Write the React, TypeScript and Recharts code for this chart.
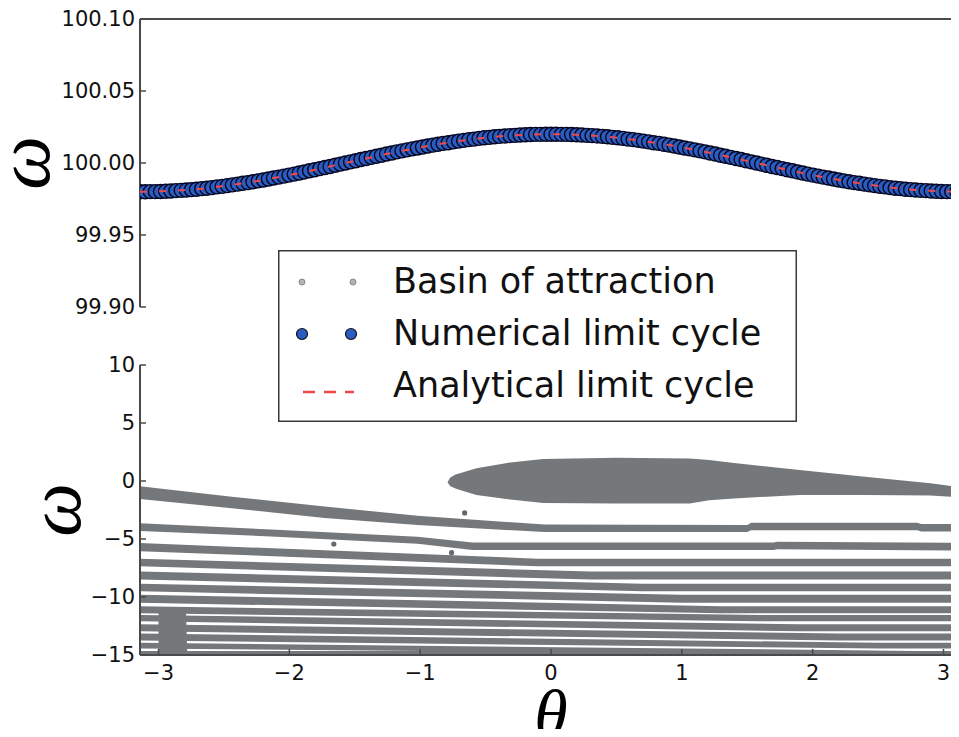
import React from 'react';
import { ComposedChart, Area, Scatter, Line, XAxis, YAxis } from 'recharts';

const PI = Math.PI;

// ---------- top panel: limit cycle ----------
const cycleTheta = [
  -3.142, -3.102, -3.063, -3.024, -2.985, -2.945, -2.906, -2.867, -2.827, -2.788,
  -2.749, -2.71, -2.67, -2.631, -2.592, -2.553, -2.513, -2.474, -2.435, -2.395,
  -2.356, -2.317, -2.278, -2.238, -2.199, -2.16, -2.121, -2.081, -2.042, -2.003,
  -1.963, -1.924, -1.885, -1.846, -1.806, -1.767, -1.728, -1.689, -1.649, -1.61,
  -1.571, -1.532, -1.492, -1.453, -1.414, -1.374, -1.335, -1.296, -1.257, -1.217,
  -1.178, -1.139, -1.1, -1.06, -1.021, -0.982, -0.942, -0.903, -0.864, -0.825,
  -0.785, -0.746, -0.707, -0.668, -0.628, -0.589, -0.55, -0.511, -0.471, -0.432,
  -0.393, -0.353, -0.314, -0.275, -0.236, -0.196, -0.157, -0.118, -0.079, -0.039,
  0.0,
  0.039, 0.079, 0.118, 0.157, 0.196, 0.236, 0.275, 0.314, 0.353, 0.393,
  0.432, 0.471, 0.511, 0.55, 0.589, 0.628, 0.668, 0.707, 0.746, 0.785,
  0.825, 0.864, 0.903, 0.942, 0.982, 1.021, 1.06, 1.1, 1.139, 1.178,
  1.217, 1.257, 1.296, 1.335, 1.374, 1.414, 1.453, 1.492, 1.532, 1.571,
  1.61, 1.649, 1.689, 1.728, 1.767, 1.806, 1.846, 1.885, 1.924, 1.963,
  2.003, 2.042, 2.081, 2.121, 2.16, 2.199, 2.238, 2.278, 2.317, 2.356,
  2.395, 2.435, 2.474, 2.513, 2.553, 2.592, 2.631, 2.67, 2.71, 2.749,
  2.788, 2.827, 2.867, 2.906, 2.945, 2.985, 3.024, 3.063, 3.102, 3.142,
];
const numericalOmega = [
  99.98, 99.98, 99.9801, 99.9801, 99.9802, 99.9804, 99.9806, 99.9808, 99.981, 99.9812,
  99.9815, 99.9818, 99.9822, 99.9825, 99.9829, 99.9834, 99.9838, 99.9843, 99.9848, 99.9853,
  99.9859, 99.9864, 99.987, 99.9876, 99.9882, 99.9889, 99.9896, 99.9902, 99.9909, 99.9916,
  99.9923, 99.9931, 99.9938, 99.9946, 99.9953, 99.9961, 99.9969, 99.9976, 99.9984, 99.9992,
  100.0, 100.0008, 100.0016, 100.0024, 100.0031, 100.0039, 100.0047, 100.0054, 100.0062, 100.0069,
  100.0077, 100.0084, 100.0091, 100.0098, 100.0104, 100.0111, 100.0118, 100.0124, 100.013, 100.0136,
  100.0141, 100.0147, 100.0152, 100.0157, 100.0162, 100.0166, 100.0171, 100.0175, 100.0178, 100.0182,
  100.0185, 100.0188, 100.019, 100.0192, 100.0194, 100.0196, 100.0198, 100.0199, 100.0199, 100.02,
  100.02,
  100.02, 100.0199, 100.0199, 100.0198, 100.0196, 100.0194, 100.0192, 100.019, 100.0188, 100.0185,
  100.0182, 100.0178, 100.0175, 100.0171, 100.0166, 100.0162, 100.0157, 100.0152, 100.0147, 100.0141,
  100.0136, 100.013, 100.0124, 100.0118, 100.0111, 100.0104, 100.0098, 100.0091, 100.0084, 100.0077,
  100.0069, 100.0062, 100.0054, 100.0047, 100.0039, 100.0031, 100.0024, 100.0016, 100.0008, 100.0,
  99.9992, 99.9984, 99.9976, 99.9969, 99.9961, 99.9953, 99.9946, 99.9938, 99.9931, 99.9923,
  99.9916, 99.9909, 99.9902, 99.9896, 99.9889, 99.9882, 99.9876, 99.987, 99.9864, 99.9859,
  99.9853, 99.9848, 99.9843, 99.9838, 99.9834, 99.9829, 99.9825, 99.9822, 99.9818, 99.9815,
  99.9812, 99.981, 99.9808, 99.9806, 99.9804, 99.9802, 99.9801, 99.9801, 99.98, 99.98,
];
const analyticalTheta = [-3.1416, -2.75, -2.36, -1.96, -1.57, -1.18, -0.79, -0.39, 0, 0.39, 0.79, 1.18, 1.57, 1.96, 2.36, 2.75, 3.1416];
const analyticalOmega = [99.98, 99.9815, 99.9859, 99.9923, 100.0, 100.0077, 100.0141, 100.0185, 100.02, 100.0185, 100.0141, 100.0077, 100.0, 99.9923, 99.9859, 99.9815, 99.98];

const topYTicks = [99.9, 99.95, 100.0, 100.05, 100.1];
const xTicks = [-3, -2, -1, 0, 1, 2, 3];
const bottomYTicks = [-15, -10, -5, 0, 5, 10];

// ---------- bottom panel: basin of attraction (theta, low, high) ----------
type Seg = [number, number, number];
const basinCap: Seg[] = [
  [-0.79, -0.12, -0.08], [-0.77, -0.45, 0.3], [-0.73, -0.65, 0.55], [-0.69, -0.8, 0.7],
  [-0.57, -1.2, 1.1], [-0.31, -1.6, 1.6], [-0.06, -1.9, 1.9], [0.5, -1.95, 2.0],
  [1.06, -1.93, 1.95], [1.21, -1.65, 1.8], [1.4, -1.5, 1.55], [1.9, -1.2, 0.95],
  [2.4, -1.2, 0.37], [2.9, -1.25, -0.2], [3.1416, -1.4, -0.55],
];
const band1: Seg[] = [
  [-3.1416, -1.55, -0.45], [-2.44, -2.35, -1.35], [-1.73, -3.2, -2.2], [-1.02, -3.8, -3.0],
  [-0.05, -4.4, -3.75], [1.5, -4.4, -3.8], [1.53, -4.25, -3.6], [2.8, -4.25, -3.6],
  [2.83, -4.35, -3.7], [3.1416, -4.35, -3.7],
];
const band2: Seg[] = [
  [-3.1416, -4.3, -3.65], [-2.1, -4.8, -4.2], [-1.02, -5.4, -4.8], [-0.6, -5.95, -5.3],
  [1.7, -5.95, -5.3], [1.73, -5.88, -5.23], [3.1416, -6.0, -5.33],
];
const band3: Seg[] = [[-3.1416, -6.05, -5.35], [-0.1, -7.35, -6.7], [3.1416, -7.35, -6.7]];
const band4: Seg[] = [[-3.1416, -7.35, -6.7], [0.3, -8.5, -7.8], [3.1416, -8.5, -7.8]];
const band5: Seg[] = [[-3.1416, -8.5, -7.8], [0.7, -9.5, -8.85], [3.1416, -9.5, -8.85]];
const band6: Seg[] = [[-3.1416, -9.5, -8.85], [1.0, -10.5, -9.8], [3.1416, -10.5, -9.8]];
const band7: Seg[] = [[-3.1416, -10.5, -9.8], [1.3, -11.4, -10.8], [3.1416, -11.4, -10.8]];
const band8: Seg[] = [[-3.1416, -11.4, -10.8], [1.6, -12.1, -11.55], [3.1416, -12.1, -11.55]];
const band9: Seg[] = [[-3.1416, -12.1, -11.55], [1.9, -12.95, -12.35], [3.1416, -12.95, -12.35]];
const band10: Seg[] = [[-3.1416, -12.95, -12.35], [2.2, -13.75, -13.15], [3.1416, -13.75, -13.15]];
const band11: Seg[] = [[-3.1416, -13.75, -13.15], [2.5, -14.45, -13.95], [3.1416, -14.45, -13.95]];
const band12: Seg[] = [[-3.1416, -14.45, -13.95], [2.8, -15, -14.65], [3.1416, -15, -14.65]];
const band13: Seg[] = [[-3.1416, -15, -14.65], [3.1416, -15, -14.65]];
const cornerPatch: Seg[] = [[-3.0, -15, -11.1], [-2.79, -15, -11.1], [-2.78, -15, -15]];
const strayTheta = [-0.66, -1.66, -0.76];
const strayOmega = [-2.75, -5.43, -6.18];

const basinBands: Seg[][] = [
  basinCap, band1, band2, band3, band4, band5, band6, band7, band8, band9, band10, band11, band12, band13, cornerPatch,
];

const numericalData = cycleTheta.map((t, i) => ({ t, w: numericalOmega[i] }));
const analyticalData = analyticalTheta.map((t, i) => ({ t, w: analyticalOmega[i] }));
const bandData = basinBands.map((b) => b.map(([t, lo, hi]) => ({ t, r: [lo, hi] })));
const strayData = strayTheta.map((t, i) => ({ t, w: strayOmega[i] }));

// ---------- styles ----------
const GRAY = '#75787b';
const BLUE = '#2b5cbf';
const RED = '#f04848';
const SPINE = '#4a4a4a';
const tickFont = { fill: '#111', fontSize: 21, fontFamily: 'DejaVu Sans' };
const minusFmt = (v: number) => (v < 0 ? `\u2212${Math.abs(v)}` : `${v}`);
const spineLine = { stroke: SPINE, strokeWidth: 2 };
const tickLn = { stroke: SPINE, strokeWidth: 1.5 };

const OmegaLabel = (props: any) => {
  const vb = props.viewBox || { x: 0, y: 0, width: 0, height: 0 };
  const x = vb.x + vb.width - props.gap;
  const y = vb.y + vb.height / 2;
  return (
    <text
      x={x}
      y={y}
      transform={`rotate(-90 ${x} ${y})`}
      textAnchor="middle"
      dominantBaseline="central"
      fill="#000"
      style={{ fontFamily: 'Liberation Serif', fontStyle: 'italic', fontSize: 76 }}
    >
      ω
    </text>
  );
};

const ThetaLabel = (props: any) => {
  const vb = props.viewBox || { x: 0, y: 0, width: 0, height: 0 };
  return (
    <text
      x={vb.x + vb.width / 2}
      y={vb.y + 82}
      textAnchor="middle"
      fill="#000"
      style={{ fontFamily: 'Liberation Serif', fontStyle: 'italic', fontSize: 68 }}
    >
      θ
    </text>
  );
};

const CycleDot = (props: any) => {
  if (props.cx == null || props.cy == null) return null;
  return <circle cx={props.cx} cy={props.cy} r={7} fill={BLUE} stroke="#050520" strokeWidth={1.4} />;
};
const StrayDot = (props: any) => {
  if (props.cx == null || props.cy == null) return null;
  return <circle cx={props.cx} cy={props.cy} r={2.6} fill="#66696c" />;
};

const Legend = () => (
  <div style={{ position: 'absolute', left: 278, top: 250, width: 519, height: 172 }}>
    <svg width={519} height={172}>
      <rect x={0.75} y={0.75} width={517.5} height={170.5} fill="#fff" stroke="#3a3a3a" strokeWidth={1.5} />
      <circle cx={24} cy={32} r={3} fill="#b4b4b4" stroke="#888" strokeWidth={1} />
      <circle cx={75} cy={32} r={3} fill="#b4b4b4" stroke="#888" strokeWidth={1} />
      <circle cx={24} cy={84} r={5.5} fill={BLUE} stroke="#111" strokeWidth={1.2} />
      <circle cx={73} cy={84} r={5.5} fill={BLUE} stroke="#111" strokeWidth={1.2} />
      <line x1={25} y1={142} x2={76} y2={142} stroke={RED} strokeWidth={2.5} strokeDasharray="12 9" />
      <g style={{ fontFamily: 'DejaVu Sans', fontSize: 35 }} fill="#111">
        <text x={115} y={43}>Basin of attraction</text>
        <text x={115} y={95}>Numerical limit cycle</text>
        <text x={115} y={147}>Analytical limit cycle</text>
      </g>
    </svg>
  </div>
);

const TOP_W = 965;
const TOP_H = 340;
const TOP_MARGIN = { top: 9, right: 1, bottom: 33, left: 80 };

export default function App() {
  return (
    <div
      style={{
        position: 'relative',
        width: 959,
        height: 737,
        overflow: 'hidden',
        margin: -8,
        background: '#fff',
      }}
    >
      <div style={{ position: 'absolute', left: 0, top: 0, width: TOP_W }}>
        <ComposedChart width={TOP_W} height={TOP_H} margin={TOP_MARGIN}>
          <XAxis
            dataKey="t"
            type="number"
            orientation="top"
            domain={[-PI, PI]}
            allowDataOverflow
            ticks={xTicks}
            height={10}
            tick={false}
            tickSize={-6}
            axisLine={spineLine}
            tickLine={tickLn}
          />
          <YAxis
            type="number"
            domain={[99.9, 100.1]}
            allowDataOverflow
            ticks={topYTicks}
            tickFormatter={(v: number) => v.toFixed(2)}
            width={60}
            tickSize={-6}
            tickMargin={11}
            tick={tickFont}
            axisLine={spineLine}
            tickLine={tickLn}
            label={<OmegaLabel gap={117} />}
          />
          <YAxis
            yAxisId="right"
            orientation="right"
            type="number"
            domain={[99.9, 100.1]}
            ticks={topYTicks}
            width={2}
            tick={false}
            tickSize={-7}
            axisLine={false}
            tickLine={tickLn}
          />
          <Scatter data={numericalData} dataKey="w" shape={<CycleDot />} isAnimationActive={false} />
        </ComposedChart>
      </div>
      <div style={{ position: 'absolute', left: 0, top: 0, width: TOP_W }}>
        <ComposedChart width={TOP_W} height={TOP_H} margin={TOP_MARGIN}>
          <XAxis
            dataKey="t"
            type="number"
            orientation="top"
            domain={[-PI, PI]}
            allowDataOverflow
            ticks={xTicks}
            height={10}
            tick={false}
            axisLine={false}
            tickLine={false}
          />
          <YAxis
            type="number"
            domain={[99.9, 100.1]}
            allowDataOverflow
            ticks={topYTicks}
            width={60}
            tick={false}
            axisLine={false}
            tickLine={false}
          />
          <YAxis
            yAxisId="right"
            orientation="right"
            type="number"
            domain={[99.9, 100.1]}
            ticks={topYTicks}
            width={2}
            tick={false}
            axisLine={false}
            tickLine={false}
          />
          <Line
            data={analyticalData}
            dataKey="w"
            type="monotone"
            stroke={RED}
            strokeWidth={2}
            strokeDasharray="7 12"
            dot={false}
            activeDot={false}
            isAnimationActive={false}
          />
        </ComposedChart>
      </div>
      <div style={{ position: 'absolute', left: 0, top: 340, width: TOP_W }}>
        <ComposedChart width={TOP_W} height={397} margin={{ top: 25, right: 1, bottom: 42, left: 80 }}>
          <XAxis
            dataKey="t"
            type="number"
            domain={[-PI, PI]}
            allowDataOverflow
            ticks={xTicks}
            tickFormatter={minusFmt}
            height={40}
            tickSize={-6}
            tickMargin={16}
            tick={tickFont}
            axisLine={spineLine}
            tickLine={tickLn}
            label={<ThetaLabel />}
          />
          <YAxis
            type="number"
            domain={[-15, 10]}
            allowDataOverflow
            ticks={bottomYTicks}
            tickFormatter={minusFmt}
            width={60}
            tickSize={-6}
            tickMargin={11}
            tick={tickFont}
            axisLine={spineLine}
            tickLine={tickLn}
            label={<OmegaLabel gap={86} />}
          />
          <YAxis
            yAxisId="right"
            orientation="right"
            type="number"
            domain={[-15, 10]}
            ticks={bottomYTicks}
            width={2}
            tick={false}
            tickSize={-7}
            axisLine={false}
            tickLine={tickLn}
          />
          {bandData.map((d, i) => (
            <Area
              key={i}
              data={d}
              dataKey="r"
              type="linear"
              fill={GRAY}
              fillOpacity={1}
              stroke="none"
              dot={false}
              activeDot={false}
              isAnimationActive={false}
            />
          ))}
          <Scatter data={strayData} dataKey="w" shape={<StrayDot />} isAnimationActive={false} />
        </ComposedChart>
      </div>
      <Legend />
    </div>
  );
}
